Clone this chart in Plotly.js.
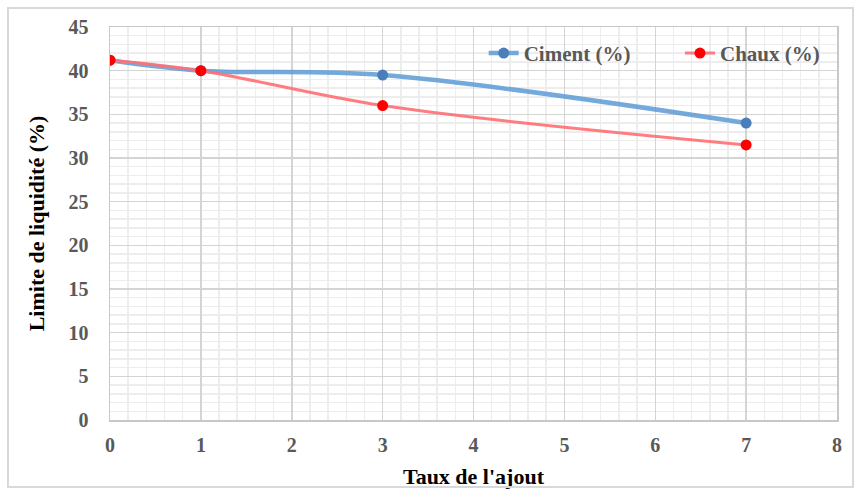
<!DOCTYPE html>
<html>
<head>
<meta charset="utf-8">
<script src="https://cdn.plot.ly/plotly-3.0.1.min.js"></script>
<style>
  html, body { margin: 0; padding: 0; background: #fff; }
  #wrap { position: relative; width: 860px; height: 491px; }
  #chart { width: 860px; height: 491px; }
  #frame { position: absolute; left: 7px; top: 7px; width: 843px; height: 477px;
           border: 2px solid #d9d9d9; pointer-events: none; }
</style>
</head>
<body>
<div id="wrap">
  <div id="chart"></div>
  <div id="frame"></div>
</div>
<script>
// Additive rate (%) and liquid limit for each binder
const tauxAjout = [0, 1, 3, 7];
const ciment = [41.2, 40.0, 39.5, 34.0];
const chaux = [41.2, 40.0, 36.0, 31.5];
const xTicks = [0, 1, 2, 3, 4, 5, 6, 7, 8];
const yTicks = [0, 5, 10, 15, 20, 25, 30, 35, 40, 45];

const serif = '"Liberation Serif", "Times New Roman", "DejaVu Serif", serif';
const legendFont = { family: serif, size: 21, color: '#595959', weight: 'bold' };

const traces = [
  {
    x: tauxAjout, y: ciment, name: 'Ciment (%)', legend: 'legend',
    type: 'scatter', mode: 'lines+markers',
    line: { color: 'rgba(91,155,213,0.85)', width: 4.5, shape: 'spline', smoothing: 1 },
    marker: { color: '#4a7ebb', size: 11 }
  },
  {
    x: tauxAjout, y: chaux, name: 'Chaux (%)', legend: 'legend2',
    type: 'scatter', mode: 'lines+markers',
    line: { color: 'rgba(255,110,115,0.9)', width: 3, shape: 'spline', smoothing: 1 },
    marker: { color: '#ff0000', size: 11 }
  }
];

const layout = {
  width: 860, height: 491,
  margin: { l: 110, r: 23, t: 27, b: 71 },
  paper_bgcolor: '#fff', plot_bgcolor: '#fff',
  showlegend: true,
  legend: {
    orientation: 'h', x: 0.514, xanchor: 'left', y: 0.985, yanchor: 'top',
    bgcolor: 'rgba(255,255,255,0)', font: legendFont
  },
  legend2: {
    orientation: 'h', x: 0.784, xanchor: 'left', y: 0.985, yanchor: 'top',
    bgcolor: 'rgba(255,255,255,0)', font: legendFont
  },
  xaxis: {
    range: [0, 8], tickvals: xTicks, ticktext: xTicks.map(String),
    showgrid: true, gridcolor: '#d4d4d4', gridwidth: 1.5,
    minor: { dtick: 0.2, showgrid: true, gridcolor: '#ededed', gridwidth: 1.5 },
    showline: true, linecolor: '#c8c8c8', linewidth: 1.5, mirror: true,
    zeroline: false, ticks: '', ticklabelstandoff: 6,
    tickfont: { family: serif, size: 20, color: '#595959', weight: 'bold' },
    title: { text: "Taux de l'ajout", font: { family: serif, size: 22, color: '#000', weight: 'bold' }, standoff: 14 }
  },
  yaxis: {
    range: [0, 45], tickvals: yTicks, ticktext: yTicks.map(String),
    showgrid: true, gridcolor: '#d4d4d4', gridwidth: 1.5,
    minor: { dtick: 1, showgrid: true, gridcolor: '#ededed', gridwidth: 1.5 },
    showline: true, linecolor: '#c8c8c8', linewidth: 1.5, mirror: true,
    zeroline: false, ticks: '', ticklabelstandoff: 16,
    tickfont: { family: serif, size: 20, color: '#595959', weight: 'bold' },
    title: { text: 'Limite de liquidité (%)', font: { family: serif, size: 22, color: '#000', weight: 'bold' }, standoff: 18 }
  }
};

Plotly.newPlot('chart', traces, layout, { displayModeBar: false, staticPlot: true });
</script>
</body>
</html>
